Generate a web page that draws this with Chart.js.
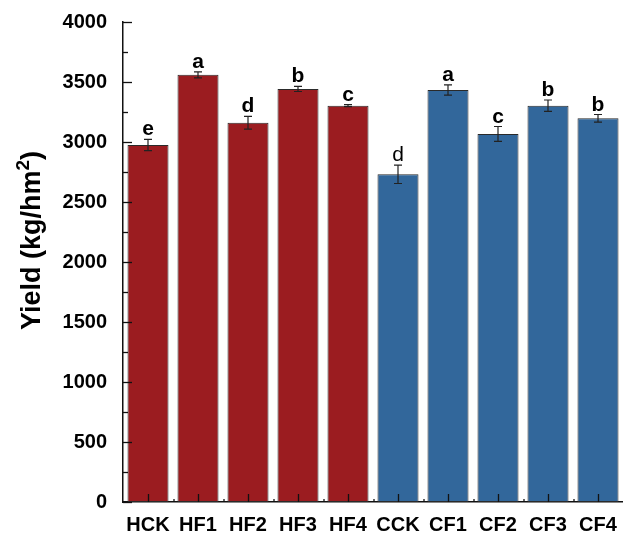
<!DOCTYPE html>
<html>
<head>
<meta charset="utf-8">
<script src="https://cdn.jsdelivr.net/npm/chart.js@4"></script>
<style>
  html, body { margin: 0; padding: 0; background: #ffffff; }
  #wrap { width: 623px; height: 533px; }
</style>
</head>
<body>
<div id="wrap"><canvas id="c" width="623" height="533"></canvas></div>
<script>
// Grain yield per treatment (kg/hm2), mean ± error, with significance letters
const categories = ['HCK', 'HF1', 'HF2', 'HF3', 'HF4', 'CCK', 'CF1', 'CF2', 'CF3', 'CF4'];
const yieldValues = [2975, 3560, 3160, 3442, 3303, 2731, 3433, 3067, 3303, 3197];
const yieldErrors = [47, 25, 53, 21, 8, 77, 43, 62, 47, 32];
const sigLetters = ['e', 'a', 'd', 'b', 'c', 'd', 'a', 'c', 'b', 'b'];
const letterWeights = ['bold', 'bold', 'bold', 'bold', 'bold', 'normal', 'bold', 'bold', 'bold', 'bold'];
const yTicks = [0, 500, 1000, 1500, 2000, 2500, 3000, 3500, 4000];

const RED = '#9b1c20';
const BLUE = '#32679b';
const FONT = 'Liberation Sans, Arial, sans-serif';
const barColors = categories.map(c => (c.charAt(0) === 'H' ? RED : BLUE));

// Inward tick marks, error bars, letters and the y-axis title
const decorations = {
  id: 'decorations',
  afterDatasetsDraw(chart) {
    const ctx = chart.ctx;
    const x = chart.scales.x;
    const y = chart.scales.y;
    const area = chart.chartArea;
    ctx.save();
    ctx.strokeStyle = '#111';
    ctx.lineWidth = 1.3;

    // y ticks: major every 500, minor in between
    for (let v = 0; v <= 4000; v += 250) {
      const py = Math.round(y.getPixelForValue(v)) + 0.5;
      const len = v % 500 === 0 ? 9 : 5;
      ctx.beginPath();
      ctx.moveTo(area.left, py);
      ctx.lineTo(area.left + len, py);
      ctx.stroke();
    }

    // x ticks: major at categories, minor at boundaries
    const half = (x.getPixelForValue(1) - x.getPixelForValue(0)) / 2;
    categories.forEach((c, i) => {
      const px = Math.round(x.getPixelForValue(i)) + 0.5;
      ctx.beginPath();
      ctx.moveTo(px, area.bottom);
      ctx.lineTo(px, area.bottom - 8);
      ctx.stroke();
      if (i > 0) {
        const bx = Math.round(px - half);
        ctx.beginPath();
        ctx.moveTo(bx, area.bottom);
        ctx.lineTo(bx, area.bottom - 3);
        ctx.stroke();
      }
    });

    // error bars
    ctx.strokeStyle = '#222';
    ctx.lineWidth = 1.2;
    const meta = chart.getDatasetMeta(0);
    meta.data.forEach((bar, i) => {
      const cx = bar.x;
      const top = y.getPixelForValue(yieldValues[i] + yieldErrors[i]);
      const bot = y.getPixelForValue(yieldValues[i] - yieldErrors[i]);
      ctx.beginPath();
      ctx.moveTo(cx, top); ctx.lineTo(cx, bot);
      ctx.moveTo(cx - 4, top); ctx.lineTo(cx + 4, top);
      ctx.moveTo(cx - 4, bot); ctx.lineTo(cx + 4, bot);
      ctx.stroke();

      // significance letter
      ctx.fillStyle = '#000';
      ctx.font = letterWeights[i] + ' 21px ' + FONT;
      ctx.textAlign = 'center';
      ctx.textBaseline = 'alphabetic';
      ctx.fillText(sigLetters[i], cx, top - 4);
    });

    // y-axis title with superscript
    ctx.fillStyle = '#000';
    const mainFont = 'bold 27px ' + FONT;
    const supFont = 'bold 19px ' + FONT;
    const partA = 'Yield (kg/hm';
    const partB = '2';
    const partC = ')';
    ctx.font = mainFont;
    const wA = ctx.measureText(partA).width;
    const wC = ctx.measureText(partC).width;
    ctx.font = supFont;
    const wB = ctx.measureText(partB).width;
    const total = wA + wB + wC;
    ctx.translate(40, 330);
    ctx.rotate(-Math.PI / 2);
    let sx = 0;
    ctx.textAlign = 'left';
    ctx.textBaseline = 'alphabetic';
    ctx.font = mainFont;
    ctx.fillText(partA, sx, 0);
    sx += wA;
    ctx.font = supFont;
    ctx.fillText(partB, sx, -11);
    sx += wB;
    ctx.font = mainFont;
    ctx.fillText(partC, sx, 0);
    ctx.restore();
  }
};

new Chart(document.getElementById('c'), {
  type: 'bar',
  data: {
    labels: categories,
    datasets: [{
      data: yieldValues,
      backgroundColor: barColors,
      borderColor: '#2a2a2a',
      borderWidth: 1,
      borderSkipped: false,
      categoryPercentage: 1.0,
      barPercentage: 0.82
    }]
  },
  options: {
    responsive: false,
    animation: false,
    devicePixelRatio: 1,
    layout: { padding: { top: 22, right: 0, left: 0, bottom: 0 } },
    plugins: { legend: { display: false }, tooltip: { enabled: false }, title: { display: false } },
    scales: {
      x: {
        grid: { display: false, drawTicks: false },
        border: { display: true, color: '#111', width: 1.5 },
        ticks: { color: '#000', font: { family: FONT, size: 20, weight: 'bold' }, padding: 11, maxRotation: 0, autoSkip: false },
        afterFit(scale) { scale.height = 31; scale.paddingLeft = 0; scale.paddingRight = 0; }
      },
      y: {
        min: 0,
        max: 4000,
        grid: { display: false, drawTicks: false },
        border: { display: true, color: '#111', width: 1.5 },
        afterBuildTicks(scale) { scale.ticks = yTicks.map(v => ({ value: v })); },
        ticks: { color: '#000', font: { family: FONT, size: 20, weight: 'bold' }, padding: 16, callback: v => String(v) },
        afterFit(scale) { scale.width = 123; scale.paddingTop = 0; scale.paddingBottom = 0; }
      }
    }
  },
  plugins: [decorations]
});
</script>
</body>
</html>
